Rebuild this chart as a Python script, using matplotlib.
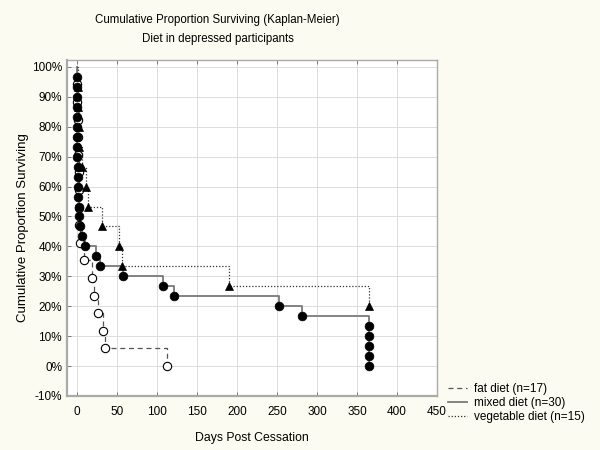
import matplotlib
matplotlib.use("Agg")
import matplotlib.pyplot as plt
from matplotlib.lines import Line2D

plt.rcParams['font.family'] = ['Liberation Sans', 'DejaVu Sans']

# ---- data (event times in days) ----
fat_n = 17
fat_days = [0, 0, 1, 1, 1, 2, 2, 2, 3, 4, 9, 19, 21, 26, 32, 35, 113]
mixed_n = 30
mixed_days = [0, 0, 0, 0, 0, 0, 0.5, 0.5, 0.5, 1, 1, 1, 1, 2, 2.5, 4, 6, 10,
              24, 29, 58, 108, 121, 252, 281, 365, 365, 365, 365, 365]
veg_n = 15
veg_days = [1, 1, 2, 2, 6, 11, 14, 31, 53, 56, 190, 365]

labels = ["fat diet (n=17)", "mixed diet (n=30)", "vegetable diet (n=15)"]
x_ticks = [0, 50, 100, 150, 200, 250, 300, 350, 400, 450]
y_ticks = [-10, 0, 10, 20, 30, 40, 50, 60, 70, 80, 90, 100]
y_ticklabels = ["-10%", "0%", "10%", "20%", "30%", "40%", "50%", "60%",
                "70%", "80%", "90%", "100%"]


def km(days, n):
    s = 100.0
    at_risk = n
    xs, ys = [], []
    for d in days:
        s = s * (1 - 1.0 / at_risk)
        at_risk -= 1
        xs.append(d)
        ys.append(s)
    return xs, ys


bg = '#fbfbf1'
fig = plt.figure(figsize=(6, 4.5), dpi=100, facecolor=bg)
ax = fig.add_axes([67/600, 1-396/450, (437-67)/600, (396-60)/450])
ax.set_facecolor('white')

series = [
    (fat_days, fat_n, dict(color='#555555', ls=(0, (4, 3)), lw=0.9),
     dict(marker='o', ms=6, mfc='white', mec='black', mew=0.8)),
    (mixed_days, mixed_n, dict(color='#7a7a7a', ls='-', lw=1.3),
     dict(marker='o', ms=6.3, mfc='black', mec='black', mew=0.5)),
    (veg_days, veg_n, dict(color='#333333', ls=(0, (1, 1.5)), lw=0.9),
     dict(marker='^', ms=5.5, mfc='black', mec='black', mew=0.5)),
]

handles = []
for days, n, lstyle, mstyle in series:
    xs, ys = km(days, n)
    ax.plot([0] + xs, [100] + ys, drawstyle='steps-post', zorder=2, **lstyle)
    ax.plot(xs, ys, ls='none', zorder=3, **mstyle)
    handles.append(Line2D([], [], **lstyle))

ax.set_xlim(-12.5, 450)
ax.set_ylim(-10, 102.3)
ax.set_xticks(x_ticks)
ax.set_yticks(y_ticks)
ax.set_yticklabels(y_ticklabels)
ax.grid(True, color='#dcdcdc', lw=0.7)
ax.set_axisbelow(True)
ax.tick_params(direction='in', length=3, width=0.7, color='#777777',
               labelsize=8.5, top=True, right=False)
ax.tick_params(axis='x', pad=7)
for name, sp in ax.spines.items():
    sp.set_color('#aaaaaa')
    sp.set_linewidth(1.6 if name in ('left', 'bottom') else 1.0)

ax.set_xlabel("Days Post Cessation", fontsize=8.8, labelpad=10)
ax.set_ylabel("Cumulative Proportion Surviving", fontsize=9.5, labelpad=2)

fig.text(0.363, 1-20/450, "Cumulative Proportion Surviving (Kaplan-Meier)",
         ha='center', va='center', fontsize=8.3)
fig.text(0.363, 1-39/450, "Diet in depressed participants",
         ha='center', va='center', fontsize=8.3)

fig.legend(handles, labels, loc='upper left', bbox_to_anchor=(0.747, 0.148),
           frameon=False, fontsize=8.5, handlelength=1.6, handletextpad=0.6,
           labelspacing=0.15, borderaxespad=0, borderpad=0)

fig.savefig("out.png", dpi=100, facecolor=bg)
